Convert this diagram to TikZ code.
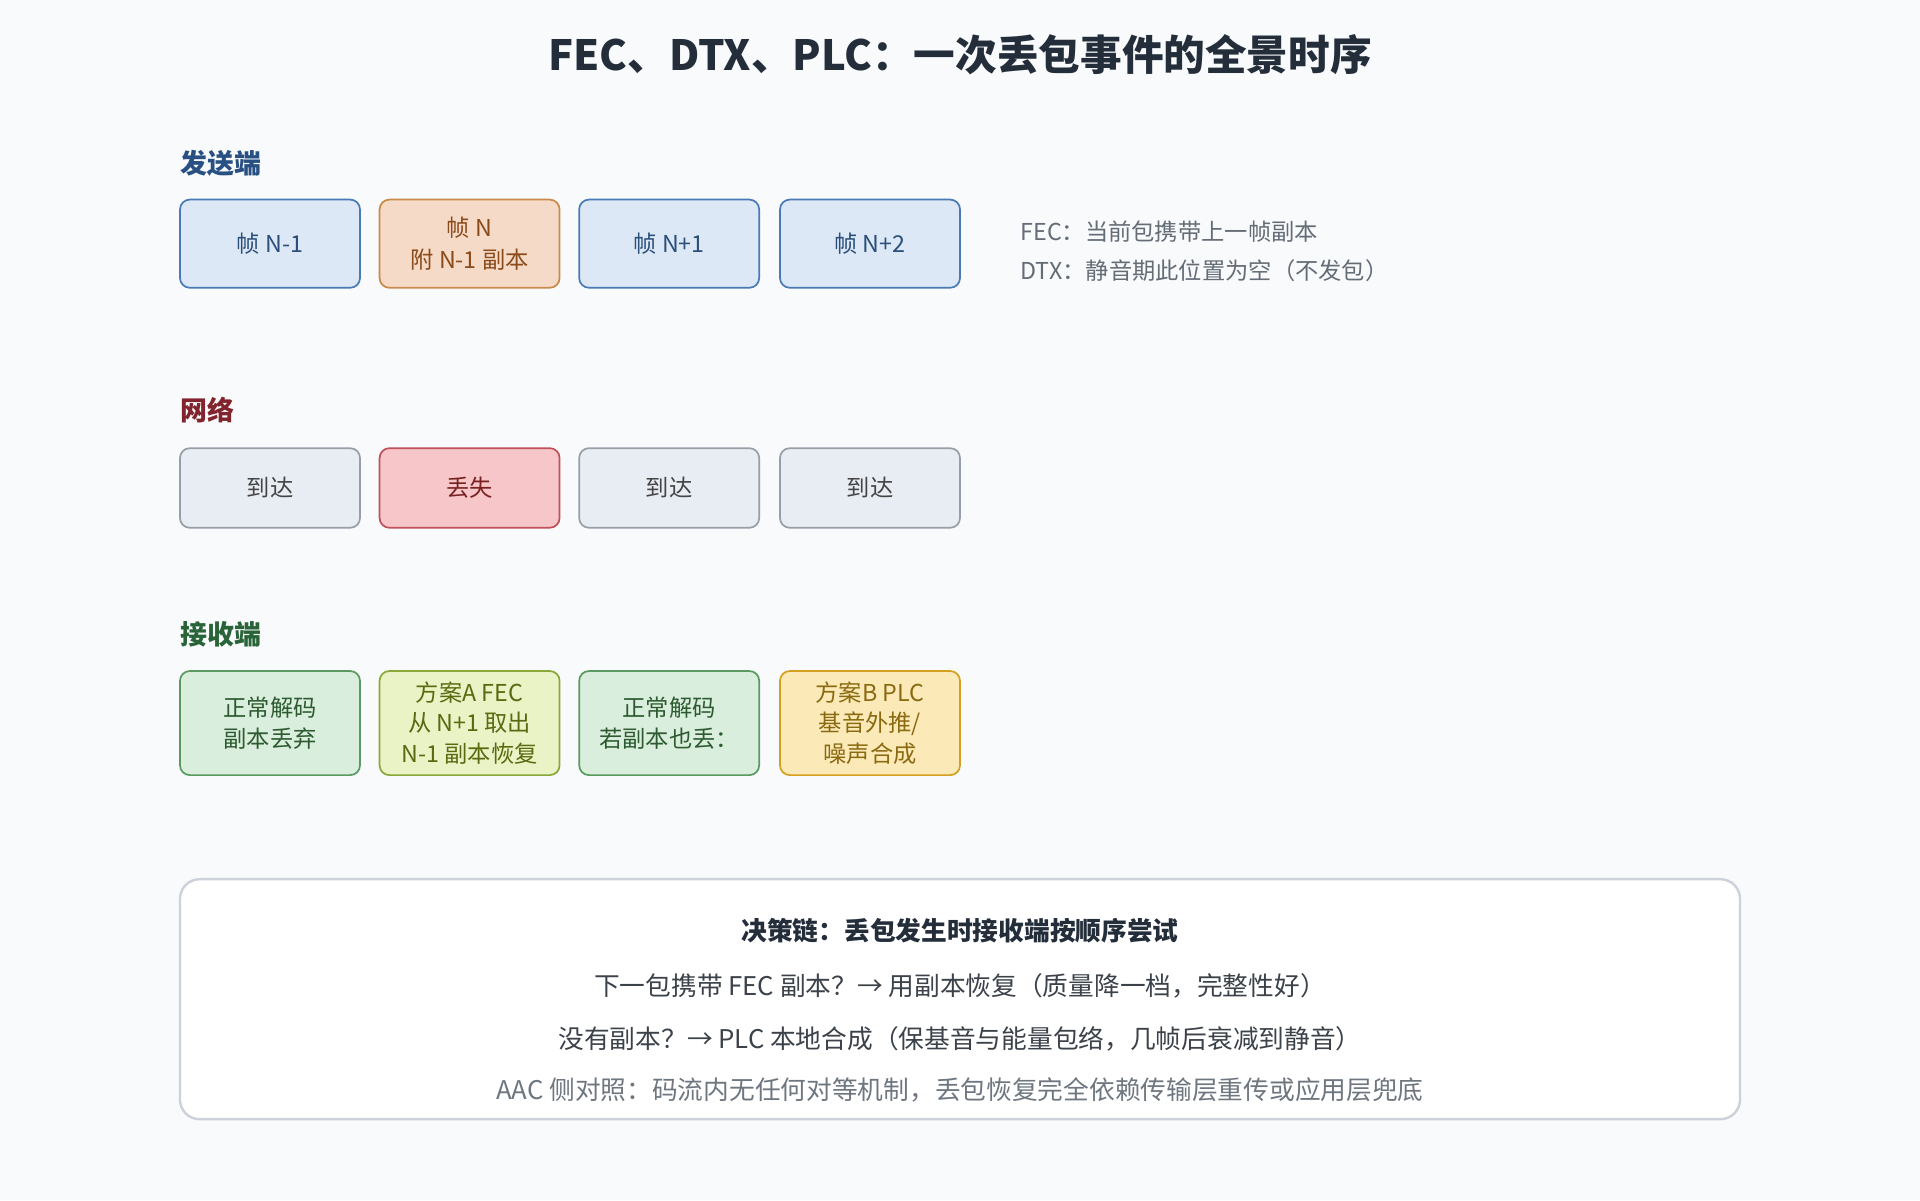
\documentclass[tikz,border=0pt]{standalone}
\usepackage{fontspec}
\setmainfont{Noto Sans CJK SC}
\definecolor{bg}{RGB}{248,250,252}
\definecolor{bluef}{RGB}{220,232,245}\definecolor{blued}{RGB}{74,122,181}\definecolor{bluet}{RGB}{43,79,122}
\definecolor{orf}{RGB}{246,218,200}\definecolor{ord}{RGB}{201,138,74}\definecolor{ort}{RGB}{138,74,26}
\definecolor{grf}{RGB}{232,237,243}\definecolor{grd}{RGB}{150,158,168}\definecolor{grt}{RGB}{68,68,68}
\definecolor{rdf}{RGB}{246,198,200}\definecolor{rdd}{RGB}{192,80,90}\definecolor{rdt}{RGB}{122,32,32}
\definecolor{gnf}{RGB}{217,238,220}\definecolor{gnd}{RGB}{90,154,96}\definecolor{gnt}{RGB}{45,90,48}
\definecolor{ygf}{RGB}{234,243,198}\definecolor{ygd}{RGB}{138,168,58}\definecolor{ygt}{RGB}{90,106,16}
\definecolor{ylf}{RGB}{251,233,184}\definecolor{yld}{RGB}{212,160,32}\definecolor{ylt}{RGB}{138,106,16}
\definecolor{titc}{RGB}{36,46,58}\definecolor{notec}{RGB}{100,108,118}\definecolor{linec}{RGB}{60,66,74}
\definecolor{lightc}{RGB}{110,118,128}\definecolor{frame}{RGB}{205,210,218}
\definecolor{h1c}{RGB}{40,80,130}\definecolor{h2c}{RGB}{130,36,46}\definecolor{h3c}{RGB}{40,100,55}
\begin{document}
\begin{tikzpicture}[x=0.5pt,y=-0.5pt,
 box/.style={draw,rounded corners=4pt,line width=0.7pt,minimum width=73.5pt,align=center,font=\fontsize{9.5}{13}\selectfont,inner sep=0pt},
 r1/.style={box,minimum height=36pt},
 r2/.style={box,minimum height=32.5pt},
 r3/.style={box,minimum height=42.5pt,font=\fontsize{9.5}{12.5}\selectfont},
 blue/.style={fill=bluef,draw=blued,text=bluet},
 orng/.style={fill=orf,draw=ord,text=ort},
 gray/.style={fill=grf,draw=grd,text=grt},
 red/.style={fill=rdf,draw=rdd,text=rdt},
 grn/.style={fill=gnf,draw=gnd,text=gnt},
 ygrn/.style={fill=ygf,draw=ygd,text=ygt},
 yel/.style={fill=ylf,draw=yld,text=ylt},
 hdr/.style={anchor=west,font=\bfseries\fontsize{11}{13}\selectfont,inner sep=0pt},
 note/.style={anchor=west,font=\fontsize{9.5}{12}\selectfont,text=notec,inner sep=0pt},
 line/.style={font=\fontsize{10.5}{12}\selectfont,text=linec,inner sep=0pt}]
\fill[bg] (0,0) rectangle (1568,980);
\useasboundingbox (0,0) rectangle (1568,980);
\node[font=\bfseries\fontsize{17}{20}\selectfont,text=titc] (title) at (784,45) {FEC、DTX、PLC：一次丢包事件的全景时序};
\node[hdr,text=h1c] (h1) at (147,133) {发送端};
\node[r1,blue] (s1) at (220.5,199) {帧 N-1};
\node[r1,orng] (s2) at (383.5,199) {帧 N\\附 N-1 副本};
\node[r1,blue] (s3) at (546.5,199) {帧 N+1};
\node[r1,blue] (s4) at (710.5,199) {帧 N+2};
\node[note] (n1) at (833,189) {FEC：当前包携带上一帧副本};
\node[note] (n2) at (833,221) {DTX：静音期此位置为空（不发包）};
\node[hdr,text=h2c] (h2) at (147,335) {网络};
\node[r2,gray] (w1) at (220.5,398.5) {到达};
\node[r2,red] (w2) at (383.5,398.5) {丢失};
\node[r2,gray] (w3) at (546.5,398.5) {到达};
\node[r2,gray] (w4) at (710.5,398.5) {到达};
\node[hdr,text=h3c] (h3) at (147,518) {接收端};
\node[r3,grn] (c1) at (220.5,590.5) {正常解码\\副本丢弃};
\node[r3,ygrn] (c2) at (383.5,590.5) {方案A FEC\\从 N+1 取出\\N-1 副本恢复};
\node[r3,grn] (c3) at (546.5,590.5) {正常解码\\若副本也丢：};
\node[r3,yel] (c4) at (710.5,590.5) {方案B PLC\\基音外推/\\噪声合成};
\draw[rounded corners=8pt,line width=1pt,draw=frame,fill=white] (147,718) rectangle (1421,914);
\node[line,font=\bfseries\fontsize{10.5}{12}\selectfont,text=titc] (b0) at (784,760) {决策链：丢包发生时接收端按顺序尝试};
\node[line] (b1) at (784,805) {下一包携带 FEC 副本？→ 用副本恢复（质量降一档，完整性好）};
\node[line] (b2) at (784,848) {没有副本？→ PLC 本地合成（保基音与能量包络，几帧后衰减到静音）};
\node[line,text=lightc] (b3) at (784,890) {AAC 侧对照：码流内无任何对等机制，丢包恢复完全依赖传输层重传或应用层兜底};
\end{tikzpicture}
\end{document}
